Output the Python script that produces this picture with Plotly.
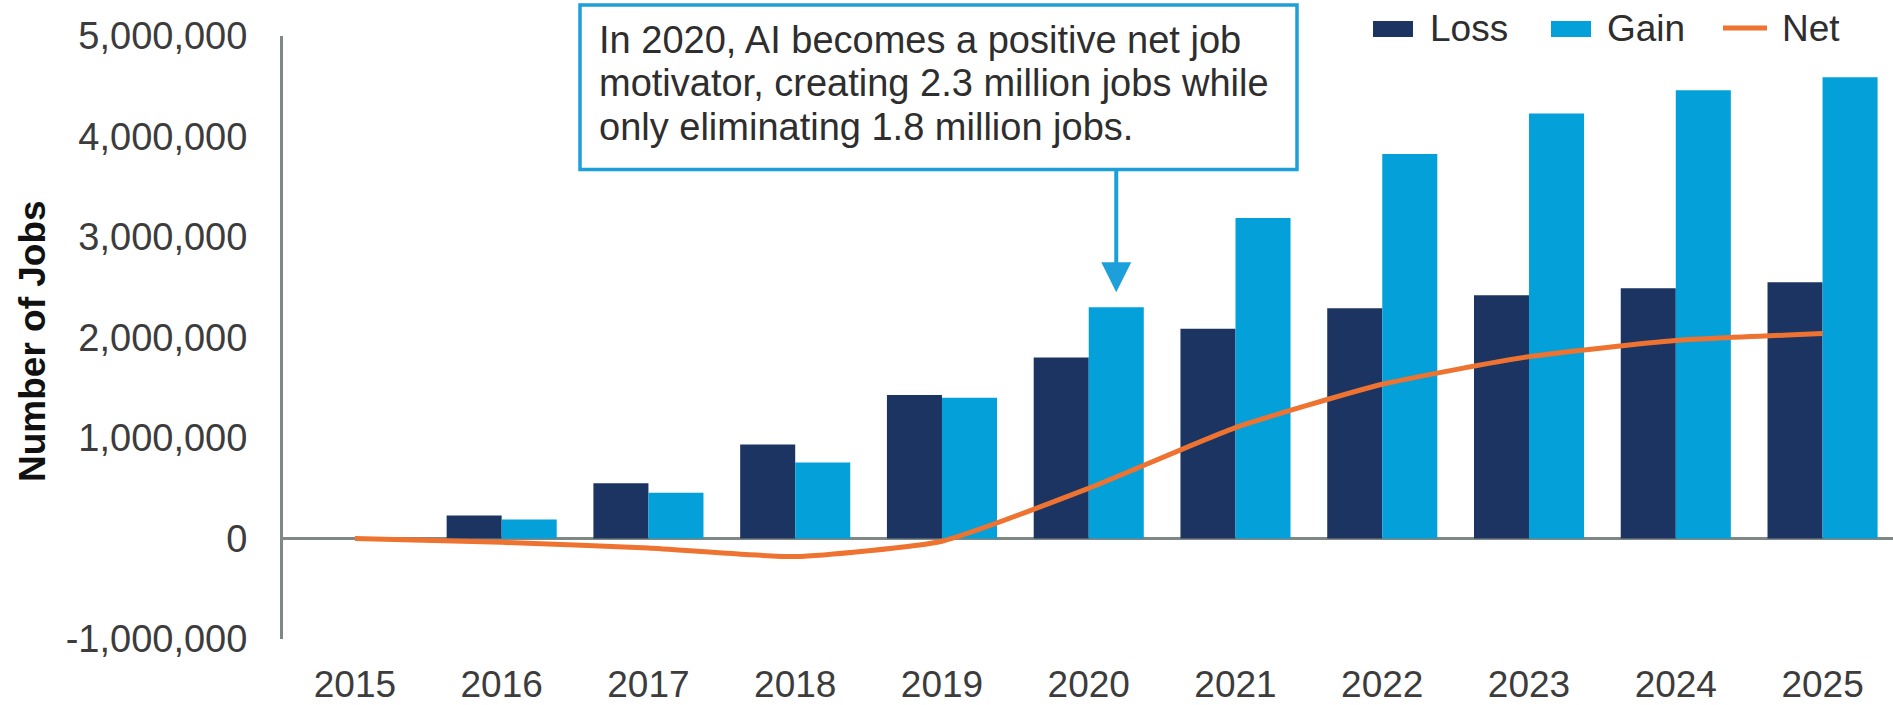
import plotly.graph_objects as go

# Job losses and gains attributed to AI, per year
years = ["2015", "2016", "2017", "2018", "2019", "2020",
         "2021", "2022", "2023", "2024", "2025"]
loss = [0, 228000, 550000, 935000, 1427000, 1800000,
        2086000, 2290000, 2420000, 2490000, 2550000]
gain = [0, 190000, 455000, 755000, 1400000, 2300000,
        3190000, 3825000, 4230000, 4460000, 4590000]
net = [g - l for g, l in zip(gain, loss)]

y_ticks = [-1000000, 0, 1000000, 2000000, 3000000, 4000000, 5000000]
y_ticktext = [f"{v:,}" for v in y_ticks]

note_lines = [
    "In 2020, AI becomes a positive net job",
    "motivator, creating 2.3 million jobs while",
    "only eliminating 1.8 million jobs.",
]

# colours
C_LOSS = "#1B3461"
C_GAIN = "#03A0D9"
C_NET = "#EE7330"
C_AXIS = "#7E8885"
C_BOX = "#1DA0DA"
C_TEXT = "#3C3C3C"
FONT = "Liberation Sans, Arial, sans-serif"

W, H = 1893, 705
ML, MR, MT, MB = 283, 0, 36, 64
PW, PH = W - ML - MR, H - MT - MB


def px(x):
    return (x - ML) / PW


def py(y):
    return (H - MB - y) / PH


idx = list(range(len(years)))

fig = go.Figure()
fig.add_trace(go.Bar(x=idx, y=loss, name="Loss", marker=dict(color=C_LOSS, line=dict(width=0))))
fig.add_trace(go.Bar(x=idx, y=gain, name="Gain", marker=dict(color=C_GAIN, line=dict(width=0))))
fig.add_trace(go.Scatter(x=idx, y=net, name="Net", mode="lines",
                         line=dict(color=C_NET, width=5, shape="spline", smoothing=0.5)))

shapes = []
annotations = []

# callout box
shapes.append(dict(type="rect", xref="paper", yref="paper",
                   x0=px(580), x1=px(1297), y0=py(170), y1=py(5),
                   line=dict(color=C_BOX, width=3.5), fillcolor="white", layer="above"))
for line_text, yc in zip(note_lines, [40, 83.5, 127]):
    annotations.append(dict(text=line_text, xref="paper", yref="paper",
                            x=px(597), y=py(yc), xanchor="left", yanchor="middle",
                            showarrow=False, font=dict(family=FONT, size=38, color="#2E2E2E")))

# arrow from the callout down to the 2020 gain bar
annotations.append(dict(text="", x=5 + 0.1875, y=gain[5] + 150000, xref="x", yref="y",
                        ax=0, ay=-123, axref="pixel", ayref="pixel",
                        showarrow=True, arrowhead=2, arrowsize=1.5, arrowwidth=4,
                        arrowcolor=C_BOX))

# legend
for name, color, x0, tx in [("Loss", C_LOSS, 1373, 1428), ("Gain", C_GAIN, 1551, 1605)]:
    shapes.append(dict(type="rect", xref="paper", yref="paper",
                       x0=px(x0), x1=px(x0 + 40), y0=py(37), y1=py(21),
                       line=dict(width=0), fillcolor=color, layer="above"))
    annotations.append(dict(text=name, xref="paper", yref="paper", x=px(tx), y=py(28),
                            xanchor="left", yanchor="middle", showarrow=False,
                            font=dict(family=FONT, size=37, color="#2E2E2E")))
shapes.append(dict(type="line", xref="paper", yref="paper",
                   x0=px(1723), x1=px(1767), y0=py(28), y1=py(28),
                   line=dict(color=C_NET, width=5), layer="above"))
annotations.append(dict(text="Net", xref="paper", yref="paper", x=px(1780), y=py(28),
                        xanchor="left", yanchor="middle", showarrow=False,
                        font=dict(family=FONT, size=37, color="#2E2E2E")))

# y axis title
annotations.append(dict(text="<b>Number of Jobs</b>", xref="paper", yref="paper",
                        x=px(33), y=py(342), xanchor="center", yanchor="middle",
                        textangle=-90, showarrow=False,
                        font=dict(family=FONT, size=37, color="#111111")))

fig.update_layout(
    width=W, height=H, autosize=False,
    margin=dict(l=ML, r=MR, t=MT, b=MB, pad=0),
    paper_bgcolor="white", plot_bgcolor="white",
    barmode="group", bargap=0.25, bargroupgap=0,
    showlegend=False,
    font=dict(family=FONT, size=37, color=C_TEXT),
    shapes=shapes, annotations=annotations,
    xaxis=dict(range=[-0.49, 10.48], tickmode="array", tickvals=idx, ticktext=years,
               showgrid=False, zeroline=False, showline=False, ticks="",
               tickfont=dict(family=FONT, size=37, color=C_TEXT),
               ticklabelstandoff=20),
    yaxis=dict(range=[-1000000, 5000000], tickmode="array", tickvals=y_ticks,
               ticktext=y_ticktext, showgrid=False, showline=True, linecolor=C_AXIS,
               linewidth=3, zeroline=True, zerolinecolor=C_AXIS, zerolinewidth=3,
               ticks="", tickfont=dict(family=FONT, size=38, color=C_TEXT),
               ticklabelstandoff=25),
)

fig.write_html("out.html")
